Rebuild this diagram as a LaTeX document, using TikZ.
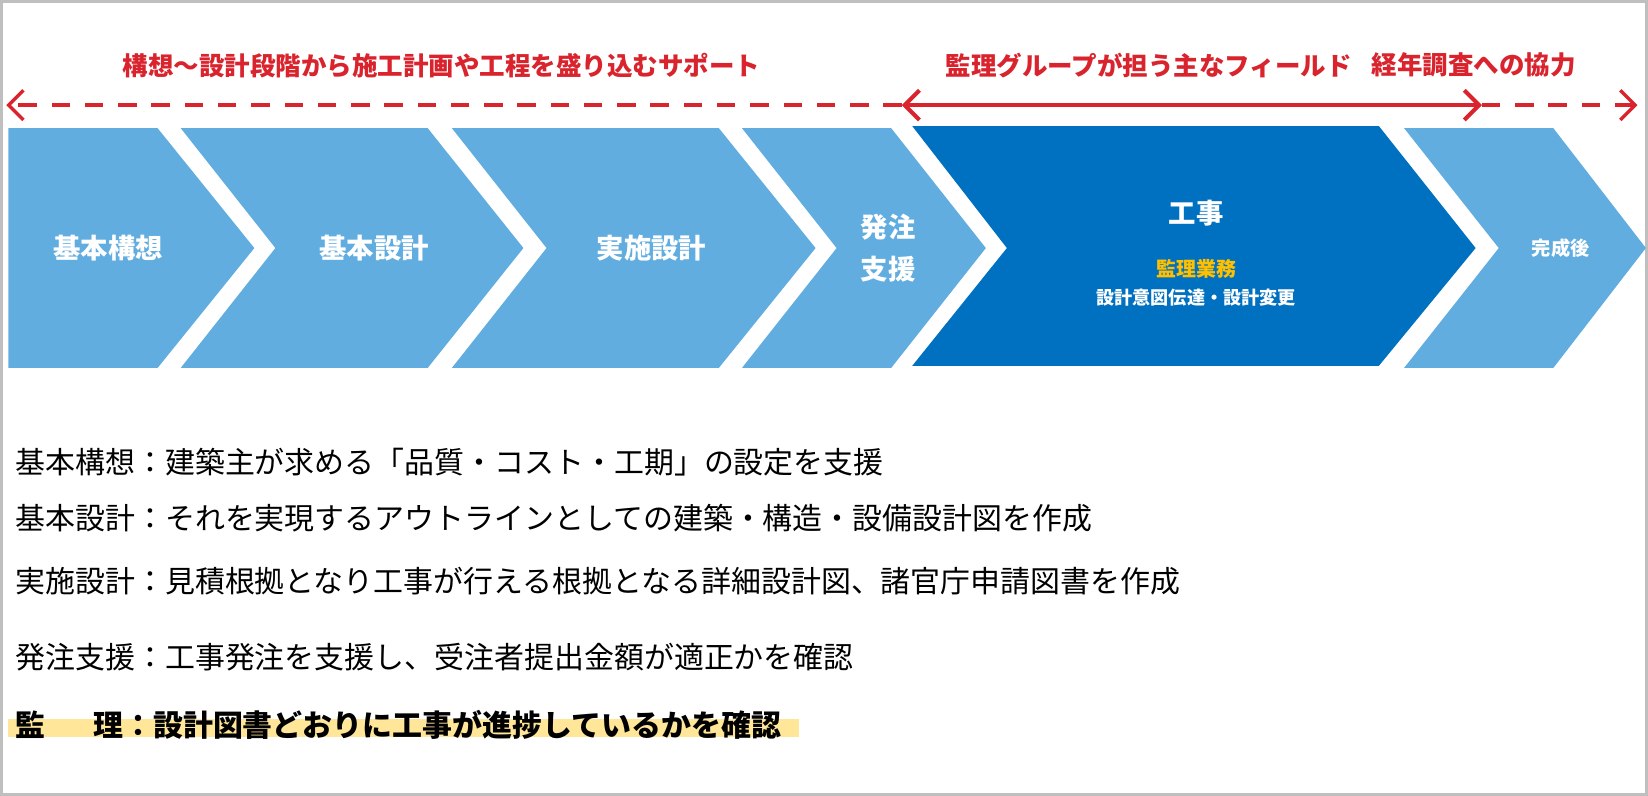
\documentclass[tikz,border=0pt]{standalone}
\usepackage{fontspec}
\setmainfont{Noto Sans CJK JP}
\usetikzlibrary{arrows.meta}
\definecolor{lb}{HTML}{62ADE0}
\definecolor{db}{HTML}{0070C0}
\definecolor{rd}{HTML}{D9232D}
\definecolor{yl}{HTML}{FFC000}
\definecolor{hl}{HTML}{FFE699}
\tikzset{chev/.style={fill=lb}, ctext/.style={text=white,font=\fontsize{7.4pt}{8.5pt}\selectfont\bfseries,align=center},
 head/.style={text=rd,font=\fontsize{6.9pt}{8pt}\selectfont\bfseries},
 desc/.style={anchor=west,font=\fontsize{8.1pt}{9pt}\selectfont,inner sep=0},
 rarrow/.style={draw=rd,line width=0.9pt,-{Straight Barb[length=4pt,width=8pt]}}}
\begin{document}
\begin{tikzpicture}[x=0.01cm,y=-0.01cm]
\useasboundingbox (0,0) rectangle (1568,757);
\draw[gray!50,line width=1pt] (1,1) rectangle (1567,756);
\fill[chev] (8,122)--(150,122)--(242,236)--(150,350)--(8,350)--cycle;
\fill[chev] (172,122)--(407,122)--(498,236)--(407,350)--(172,350)--(262,236)--cycle;
\fill[chev] (430,122)--(684,122)--(776,236)--(684,350)--(430,350)--(520,236)--cycle;
\fill[chev] (706,122)--(848,122)--(938,236)--(848,350)--(706,350)--(796,236)--cycle;
\fill[db] (868,120)--(1312,120)--(1404,236)--(1312,348)--(868,348)--(958,236)--cycle;
\fill[chev] (1336,122)--(1478,122)--(1566,236)--(1478,350)--(1336,350)--(1426,236)--cycle;
\node[ctext] (c1) at (103,236) {基本構想};
\node[ctext] (c2) at (356,236) {基本設計};
\node[ctext] (c3) at (620,236) {実施設計};
\node[ctext] (c4) at (845,236) {発注\\[3pt]支援};
\node[ctext] (c5) at (1138,203) {工事};
\node[ctext,text=yl,font=\fontsize{5.4pt}{6pt}\selectfont\bfseries] (c5a) at (1138,256) {監理業務};
\node[ctext,font=\fontsize{4.9pt}{6pt}\selectfont\bfseries] (c5b) at (1138,283) {設計意図伝達・設計変更};
\node[ctext,font=\fontsize{5.2pt}{6pt}\selectfont\bfseries] (c6) at (1485,236) {完成後};
\coordinate (a0) at (6,100); \coordinate (a1) at (858,100);
\coordinate (a2) at (1410,100); \coordinate (a3) at (1558,100);
\draw[rarrow,dash pattern=on 5pt off 4pt] (a1)--(a0);
\draw[rarrow,{Straight Barb[length=4pt,width=8pt]}-{Straight Barb[length=4pt,width=8pt]},line width=1.1pt] (a1)--(a2);
\draw[rarrow,dash pattern=on 5pt off 4pt] (a2)--(a3);
\node[head] (h1) at (420,62) {構想～設計段階から施工計画や工程を盛り込むサポート};
\node[head] (h2) at (1093,62) {監理グループが担う主なフィールド};
\node[head] (h3) at (1402,62) {経年調査への協力};
\fill[hl] (8,684) rectangle (760,701);
\node[desc] (d1) at (14,440) {基本構想：建築主が求める「品質・コスト・工期」の設定を支援};
\node[desc] (d2) at (14,493) {基本設計：それを実現するアウトラインとしての建築・構造・設備設計図を作成};
\node[desc] (d3) at (14,553) {実施設計：見積根拠となり工事が行える根拠となる詳細設計図、諸官庁申請図書を作成};
\node[desc] (d4) at (14,625) {発注支援：工事発注を支援し、受注者提出金額が適正かを確認};
\node[desc,font=\fontsize{8.1pt}{9pt}\selectfont\bfseries] (d5) at (14,690) {監\hspace{1.6em}理：設計図書どおりに工事が進捗しているかを確認};
\end{tikzpicture}
\end{document}
